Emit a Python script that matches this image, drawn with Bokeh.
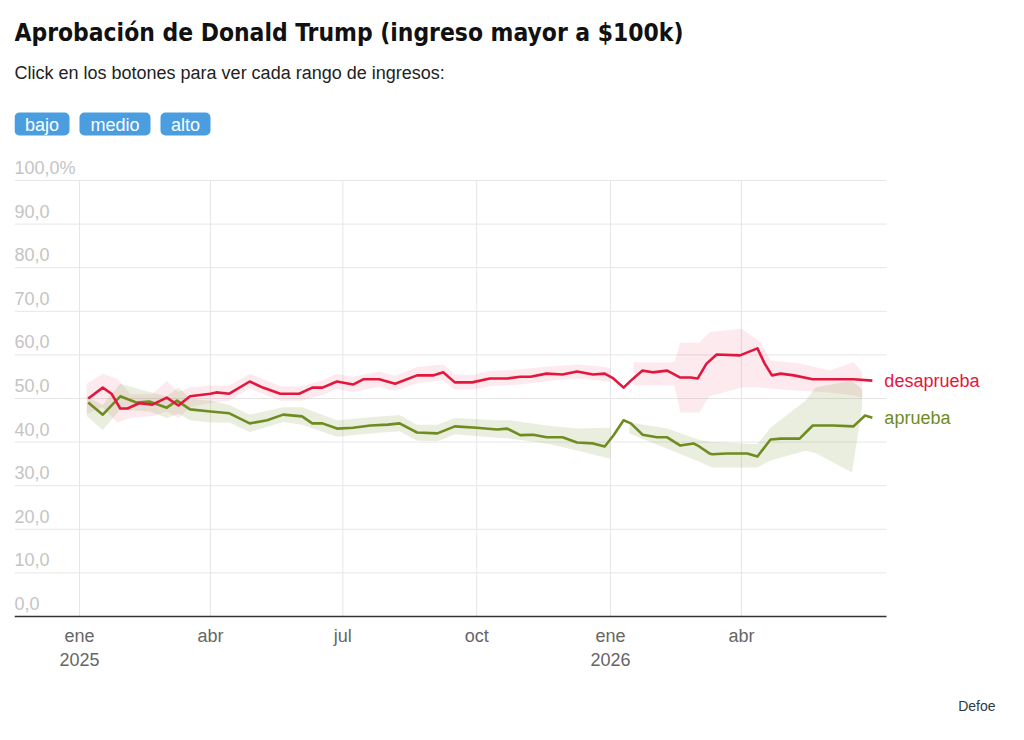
import pandas as pd
from bokeh.plotting import figure
from bokeh.models import Range1d, FixedTicker, Title
from bokeh.core.properties import value
from bokeh.embed import file_html
from bokeh.resources import INLINE

# ---------------- data ----------------
TITLE = "Aprobación de Donald Trump (ingreso mayor a $100k)"
SUBTITLE = "Click en los botones para ver cada rango de ingresos:"
BUTTONS = ["bajo", "medio", "alto"]
Y_TICKS = [0, 10, 20, 30, 40, 50, 60, 70, 80, 90, 100]
Y_TICK_LABELS = ["0,0", "10,0", "20,0", "30,0", "40,0", "50,0", "60,0", "70,0", "80,0", "90,0", "100,0%"]
X_TICK_DATES = ["2025-01-01", "2025-04-01", "2025-07-01", "2025-10-01", "2026-01-01", "2026-04-01"]
X_TICK_LABELS = ["ene\n2025", "abr", "jul", "oct", "ene\n2026", "abr"]
SERIES_LABELS = ["desaprueba", "aprueba"]

desaprueba_dates = [
    "2025-01-07", "2025-01-17", "2025-01-23", "2025-01-29", "2025-02-03", "2025-02-11", "2025-02-20",
    "2025-03-02", "2025-03-10", "2025-03-18", "2025-04-01", "2025-04-05", "2025-04-14", "2025-04-28",
    "2025-05-07", "2025-05-19", "2025-06-01", "2025-06-10", "2025-06-17", "2025-06-27", "2025-07-08",
    "2025-07-15", "2025-07-26", "2025-08-06", "2025-08-21", "2025-09-01", "2025-09-08", "2025-09-16",
    "2025-09-28", "2025-10-10", "2025-10-22", "2025-10-31", "2025-11-07", "2025-11-18", "2025-11-29",
    "2025-12-09", "2025-12-20", "2025-12-28", "2026-01-03", "2026-01-10", "2026-01-15", "2026-01-23",
    "2026-01-30", "2026-02-09", "2026-02-18", "2026-02-25", "2026-03-02", "2026-03-08", "2026-03-15",
    "2026-03-31", "2026-04-12", "2026-04-17", "2026-04-22", "2026-04-28", "2026-05-07", "2026-05-20",
    "2026-06-03", "2026-06-17", "2026-06-30",
]
desaprueba_vals = [
    50.0, 52.5, 51.1, 47.7, 47.7, 48.9, 48.6,
    50.2, 48.4, 50.5, 51.1, 51.4, 51.1, 53.9,
    52.5, 51.1, 51.1, 52.5, 52.5, 53.9, 53.2,
    54.4, 54.4, 53.4, 55.3, 55.3, 56.0, 53.7,
    53.7, 54.6, 54.6, 55.0, 55.0, 55.7, 55.5,
    56.2, 55.5, 55.7, 54.6, 52.5, 54.1, 56.4,
    56.0, 56.4, 54.8, 54.8, 54.6, 58.0, 60.1,
    59.9, 61.5, 58.0, 55.3, 55.7, 55.3, 54.4,
    54.4, 54.4, 54.1,
]

aprueba_dates = [
    "2025-01-07", "2025-01-17", "2025-01-29", "2025-02-09", "2025-02-18", "2025-03-02", "2025-03-09",
    "2025-03-18", "2025-04-01", "2025-04-14", "2025-04-28", "2025-05-10", "2025-05-21", "2025-06-03",
    "2025-06-10", "2025-06-17", "2025-06-27", "2025-07-08", "2025-07-20", "2025-08-01", "2025-08-09",
    "2025-08-21", "2025-09-04", "2025-09-16", "2025-10-01", "2025-10-15", "2025-10-22", "2025-10-31",
    "2025-11-09", "2025-11-18", "2025-11-29", "2025-12-09", "2025-12-20", "2025-12-28", "2026-01-03",
    "2026-01-10", "2026-01-15", "2026-01-23", "2026-02-02", "2026-02-09", "2026-02-18", "2026-02-27",
    "2026-03-03", "2026-03-10", "2026-03-12", "2026-03-22", "2026-04-05", "2026-04-12", "2026-04-21",
    "2026-04-28", "2026-05-11", "2026-05-20", "2026-06-03", "2026-06-17", "2026-06-25", "2026-06-30",
]
aprueba_vals = [
    49.1, 46.3, 50.5, 49.1, 49.3, 47.9, 49.5,
    47.5, 47.0, 46.6, 44.3, 45.0, 46.3, 45.9,
    44.3, 44.3, 43.1, 43.3, 43.8, 44.0, 44.3,
    42.2, 42.0, 43.6, 43.3, 42.9, 43.1, 41.6,
    41.7, 41.1, 41.1, 39.9, 39.7, 39.0, 41.5,
    45.0, 44.3, 41.7, 41.1, 41.1, 39.2, 39.7,
    39.0, 37.4, 37.2, 37.4, 37.4, 36.7, 40.6,
    40.8, 40.8, 43.8, 43.8, 43.6, 46.1, 45.6,
]

# uncertainty bands (None = gap)
desaprueba_band_dates = [
    "2025-01-06", "2025-01-17", "2025-01-27", "2025-02-05", "2025-02-20", "2025-03-02", "2025-03-10",
    "2025-03-18", "2025-04-01", "2025-04-14", "2025-04-28", "2025-05-19", "2025-06-03", "2025-06-17",
    "2025-06-27", "2025-07-08", "2025-07-26", "2025-08-06", "2025-08-21", "2025-09-08", "2025-09-16",
    "2025-09-28", "2025-10-10", "2025-10-31", "2025-11-18", "2025-12-09", "2025-12-28", "2026-01-01",
    "2026-01-09",
    "2026-01-17", "2026-02-14", "2026-02-18", "2026-03-03", "2026-03-10", "2026-04-01", "2026-04-14",
    "2026-04-21", "2026-05-11", "2026-06-01", "2026-06-17", "2026-06-23",
]
desaprueba_lo = [
    46.5, 48.0, 44.5, 45.5, 46.0, 47.0, 45.5,
    48.0, 49.0, 49.5, 52.3, 49.5, 49.5, 50.8,
    52.2, 51.5, 52.7, 51.7, 53.5, 54.2, 52.0,
    52.0, 52.8, 53.2, 54.0, 54.6, 54.0, 53.7,
    None,
    53.0, 53.0, 46.8, 46.8, 50.5, 52.5, 52.5,
    52.3, 51.8, 51.4, 50.7, 50.2,
]
desaprueba_hi = [
    53.4, 55.7, 54.5, 51.0, 51.0, 54.0, 51.5,
    52.5, 53.0, 53.0, 55.7, 52.8, 52.8, 54.2,
    55.6, 55.0, 56.2, 55.2, 57.2, 57.8, 55.5,
    55.4, 56.3, 56.7, 57.3, 57.8, 57.3, 56.9,
    None,
    58.3, 58.3, 62.8, 62.8, 65.2, 66.0, 63.0,
    58.7, 58.0, 56.4, 58.3, 56.0,
]

aprueba_band_dates = [
    "2025-01-06", "2025-01-17", "2025-01-29", "2025-02-18", "2025-03-02", "2025-03-10", "2025-03-18",
    "2025-04-01", "2025-04-14", "2025-04-28", "2025-05-21", "2025-06-03", "2025-06-27", "2025-07-20",
    "2025-08-09", "2025-08-21", "2025-09-04", "2025-09-16", "2025-10-15", "2025-10-24", "2025-11-18",
    "2025-12-09", "2026-01-01",
    "2026-01-08",
    "2026-01-14", "2026-02-09", "2026-03-03", "2026-03-12", "2026-04-12", "2026-04-21", "2026-05-15",
    "2026-05-22", "2026-06-16", "2026-06-23",
]
aprueba_lo = [
    46.0, 42.8, 47.5, 47.0, 45.5, 46.5, 45.0,
    44.5, 44.5, 42.3, 44.6, 44.0, 41.2, 42.0,
    42.5, 40.3, 40.2, 41.8, 41.0, 40.8, 39.7,
    38.1, 36.2,
    None,
    42.0, 38.5, 35.5, 34.2, 34.2, 35.8, 38.0,
    37.5, 33.0, 48.0,
]
aprueba_hi = [
    50.5, 48.5, 53.4, 51.5, 50.5, 52.5, 50.0,
    49.5, 48.5, 46.3, 48.0, 48.0, 45.0, 45.7,
    46.2, 44.0, 44.0, 45.5, 45.0, 45.0, 43.8,
    43.1, 43.3,
    None,
    44.5, 43.1, 40.5, 40.0, 39.5, 43.3, 49.5,
    52.5, 54.1, 52.0,
]

# ---------------- styling / layout ----------------
RED = "#e3173d"
GREEN = "#6e8c1f"
BLUE = "#4a9ee0"
GRID = "#e6e6e6"
ORIGIN = pd.Timestamp("2025-01-01")
PX_PER_DAY = 1.4548
PX_PER_UNIT = 4.36
FONT = "Liberation Sans"
FS = "18px"


def to_days(dates):
    return [(pd.Timestamp(d) - ORIGIN).days for d in dates]


# page-pixel helpers for decorative placement only
def px_x(px):
    return (px - 79) / PX_PER_DAY


def px_y(py):
    return (616 - py) / PX_PER_UNIT


W, H = 1008, 738
FRAME_BOTTOM = 618
x_start, x_end = px_x(14), px_x(W)
y_start, y_end = px_y(FRAME_BOTTOM), px_y(0)
plot_right = px_x(886)

p = figure(width=W, height=H, output_backend="svg", toolbar_location=None,
           x_range=Range1d(x_start, x_end), y_range=Range1d(y_start, y_end),
           min_border_left=14, min_border_right=0, min_border_top=0,
           min_border_bottom=H - FRAME_BOTTOM)
p.outline_line_color = None
p.background_fill_color = "white"
p.border_fill_color = "white"
p.yaxis.visible = False
p.xgrid.grid_line_color = None
p.ygrid.grid_line_color = None

x_ticks = to_days(X_TICK_DATES)
p.xaxis.ticker = FixedTicker(ticks=x_ticks)
p.xaxis.major_label_overrides = {t: lab for t, lab in zip(x_ticks, X_TICK_LABELS)}
p.xaxis.major_label_text_font = FONT
p.xaxis.major_label_text_font_size = FS
p.xaxis.major_label_text_color = "#666666"
p.xaxis.major_label_standoff = 1
p.xaxis.major_tick_line_color = None
p.xaxis.minor_tick_line_color = None
p.xaxis.axis_line_color = None

# horizontal grid lines
p.segment(x0=[x_start] * (len(Y_TICKS) - 1), x1=[plot_right] * (len(Y_TICKS) - 1),
          y0=Y_TICKS[1:], y1=Y_TICKS[1:], line_color=GRID, line_width=1)
# vertical grid lines (only within 0..100)
p.segment(x0=x_ticks, x1=x_ticks, y0=[Y_TICKS[0]] * len(x_ticks), y1=[Y_TICKS[-1]] * len(x_ticks),
          line_color=GRID, line_width=1)
# baseline (axis line)
p.segment(x0=[x_start], x1=[plot_right], y0=[Y_TICKS[0]], y1=[Y_TICKS[0]],
          line_color="#333333", line_width=1.3)

# y tick labels (inside, above grid lines)
p.text(x=[x_start] * len(Y_TICKS), y=Y_TICKS, text=Y_TICK_LABELS, text_font=value(FONT),
       text_font_size=FS, text_color="#c4c4c4", text_baseline="middle",
       text_align="left", y_offset=-13)


def band_segments(dates, lo, hi):
    segs, cur = [], ([], [], [])
    for d, a, b in zip(to_days(dates), lo, hi):
        if a is None or b is None:
            if cur[0]:
                segs.append(cur)
            cur = ([], [], [])
        else:
            cur[0].append(d); cur[1].append(a); cur[2].append(b)
    if cur[0]:
        segs.append(cur)
    return segs


for xs, lo, hi in band_segments(desaprueba_band_dates, desaprueba_lo, desaprueba_hi):
    p.varea(x=xs, y1=lo, y2=hi, fill_color=RED, fill_alpha=0.09)
for xs, lo, hi in band_segments(aprueba_band_dates, aprueba_lo, aprueba_hi):
    p.varea(x=xs, y1=lo, y2=hi, fill_color=GREEN, fill_alpha=0.15)

dx = to_days(desaprueba_dates)
ax = to_days(aprueba_dates)
p.line(ax, aprueba_vals, line_color=GREEN, line_width=2.6, line_join="round")
p.line(dx, desaprueba_vals, line_color=RED, line_width=2.6, line_join="round")

p.text(x=[dx[-1]], y=[desaprueba_vals[-1]], text=[SERIES_LABELS[0]], x_offset=12,
       text_baseline="middle", text_color=RED, text_font=value(FONT), text_font_size=FS)
p.text(x=[ax[-1]], y=[aprueba_vals[-1]], text=[SERIES_LABELS[1]], x_offset=12,
       text_baseline="middle", text_color=GREEN, text_font=value(FONT), text_font_size=FS)

# title and subtitle
p.text(x=[x_start], y=[px_y(32)], text=[TITLE], text_font=value("DejaVu Sans Condensed"),
       text_font_style="bold", text_font_size="24.4px", text_color="#111111",
       text_baseline="middle", text_align="left")
p.text(x=[x_start], y=[px_y(72)], text=[SUBTITLE], text_font=value(FONT),
       text_font_size=FS, text_color="#222222", text_baseline="middle", text_align="left")

# buttons
btn_left = [px_x(14), px_x(79), px_x(160)]
btn_right = [px_x(69), px_x(150), px_x(210)]
p.quad(left=btn_left, right=btn_right, bottom=[px_y(135)] * 3, top=[px_y(112)] * 3,
       fill_color=BLUE, line_color=None, border_radius=5)
p.text(x=[(a + b) / 2 for a, b in zip(btn_left, btn_right)], y=[px_y(124)] * 3, text=BUTTONS,
       text_font=value(FONT), text_font_size=FS, text_color="white",
       text_baseline="middle", text_align="center")

# logo (below the axis)
p.add_layout(Title(text="Defoe", align="right", text_font=FONT, text_font_size="14px",
                   text_font_style="normal", text_color="#2f3a44", offset=13, standoff=46),
             "below")

open("out.html", "w").write(file_html(p, INLINE))
